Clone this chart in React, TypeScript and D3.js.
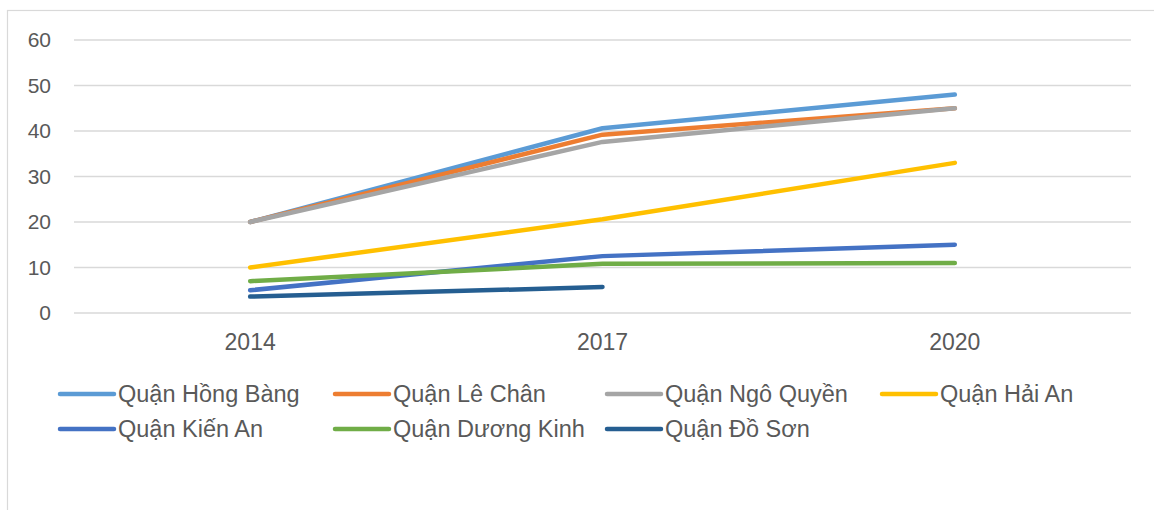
import React, {useEffect, useRef} from 'react';
import * as d3 from 'd3';

const years = ['2014', '2017', '2020'];
const yTicks = [0, 10, 20, 30, 40, 50, 60];

const seriesNames = [
  'Quận Hồng Bàng',
  'Quận Lê Chân',
  'Quận Ngô Quyền',
  'Quận Hải An',
  'Quận Kiến An',
  'Quận Dương Kinh',
  'Quận Đồ Sơn',
];
const hongBang = [20, 40.6, 48];
const leChan = [20, 39.2, 45];
const ngoQuyen = [20, 37.6, 45];
const haiAn = [10, 20.6, 33];
const kienAn = [5, 12.5, 15];
const duongKinh = [7, 10.8, 11];
const doSon = [3.6, 5.7, null];

const colors = ['#5B9BD5', '#ED7D31', '#A5A5A5', '#FFC000', '#4472C4', '#70AD47', '#255E91'];

function App() {
  const ref = useRef<SVGSVGElement>(null);
  const width = 1154;
  const height = 510;

  useEffect(() => {
    const svg = d3.select(ref.current);
    svg.selectAll('*').remove();
    const font = '"Liberation Sans", Arial, sans-serif';
    const textColor = '#595959';

    // chart frame (cropped on right/bottom)
    svg.append('rect')
      .attr('x', 7.5).attr('y', 10.5)
      .attr('width', 1200).attr('height', 600)
      .attr('fill', 'white')
      .attr('stroke', '#d9d9d9')
      .attr('stroke-width', 1.2);

    const x = d3.scaleBand().domain(years).range([74, 1131]);
    const y = d3.scaleLinear().domain([0, 60]).range([313, 40]);

    // grid
    svg.append('g')
      .selectAll('line')
      .data(yTicks)
      .enter()
      .append('line')
      .attr('x1', 74).attr('x2', 1131)
      .attr('y1', d => y(d)).attr('y2', d => y(d))
      .attr('stroke', '#d9d9d9')
      .attr('stroke-width', 1.5);

    // y labels
    svg.append('g')
      .selectAll('text')
      .data(yTicks)
      .enter()
      .append('text')
      .attr('x', 51)
      .attr('y', d => y(d))
      .attr('dy', '0.35em')
      .attr('text-anchor', 'end')
      .attr('font-family', font)
      .attr('font-size', 21)
      .attr('fill', textColor)
      .text(d => d);

    // x labels
    svg.append('g')
      .selectAll('text')
      .data(years)
      .enter()
      .append('text')
      .attr('x', d => (x(d) as number) + x.bandwidth() / 2)
      .attr('y', 342)
      .attr('dy', '0.35em')
      .attr('text-anchor', 'middle')
      .attr('font-family', font)
      .attr('font-size', 23)
      .attr('fill', textColor)
      .text(d => d);

    const allSeries = [hongBang, leChan, ngoQuyen, haiAn, kienAn, duongKinh, doSon];
    const line = d3.line<number | null>()
      .defined(d => d !== null)
      .x((_, i) => (x(years[i]) as number) + x.bandwidth() / 2)
      .y(d => y(d as number));

    svg.append('g')
      .selectAll('path')
      .data(allSeries)
      .enter()
      .append('path')
      .attr('d', d => line(d))
      .attr('fill', 'none')
      .attr('stroke', (_, i) => colors[i])
      .attr('stroke-width', 4.5)
      .attr('stroke-linecap', 'round')
      .attr('stroke-linejoin', 'round');

    // legend
    const colX = [60, 335, 607, 882];
    const rowY = [394, 429];
    const leg = svg.append('g')
      .selectAll('g')
      .data(seriesNames)
      .enter()
      .append('g')
      .attr('transform', (_, i) => `translate(${colX[i % 4]},${rowY[Math.floor(i / 4)]})`);
    leg.append('line')
      .attr('x1', 0).attr('x2', 54)
      .attr('y1', 0).attr('y2', 0)
      .attr('stroke', (_, i) => colors[i])
      .attr('stroke-width', 4.5)
      .attr('stroke-linecap', 'round');
    leg.append('text')
      .attr('x', 58)
      .attr('y', 0)
      .attr('dy', '0.35em')
      .attr('font-family', font)
      .attr('font-size', 23.5)
      .attr('fill', textColor)
      .text(d => d);
  }, []);

  return (
    <div style={{position: 'absolute', left: 0, top: 0, width, height, background: 'white'}}>
      <svg ref={ref} width={width} height={height} style={{display: 'block'}}/>
    </div>
  );
}

export default App;
